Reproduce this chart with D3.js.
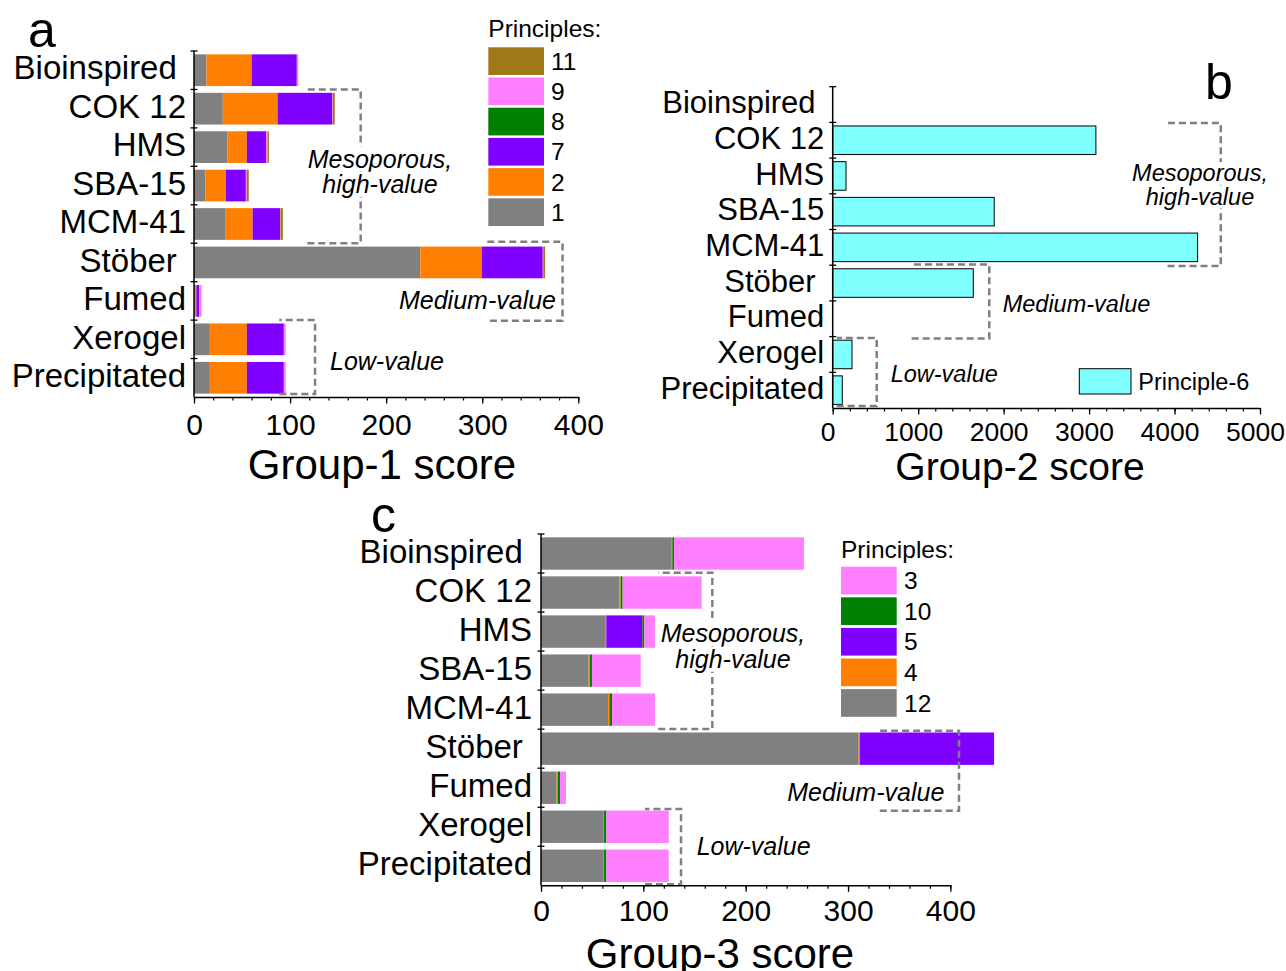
<!DOCTYPE html>
<html><head><meta charset="utf-8">
<script src="https://cdn.jsdelivr.net/npm/d3@7"></script>
<style>
body{margin:0;background:#fff}
svg{display:block}
text{font-family:"Liberation Sans",Arial,sans-serif;fill:#000}
</style>
</head><body>
<svg id="chart" width="1286" height="971"></svg>
<script>
// ---------- DATA ----------
const categories = ["Bioinspired","COK 12","HMS","SBA-15","MCM-41","Stöber","Fumed","Xerogel","Precipitated"];
const categoryLabels = ["Bioinspired\u00a0","COK 12","HMS","SBA-15","MCM-41","Stöber\u00a0","Fumed","Xerogel","Precipitated"];

// Group-1 (panel a), stacked in this order
const g1Keys = ["1","2","7","8","9","11"];
const g1P1  = [13, 30, 35, 12, 33, 235.5, 0.5, 16.5, 16.5];
const g1P2  = [47, 57, 20, 21, 28, 64, 2, 38.5, 38.5];
const g1P7  = [47, 57, 20, 21, 28.5, 63.5, 3, 38.5, 38.5];
const g1P8  = [0, 0, 0, 0, 0, 0, 0, 0, 0];
const g1P9  = [1.5, 0.5, 1.5, 1, 0.5, 0.5, 2.5, 2, 2];
const g1P11 = [0, 2, 1.5, 2, 2.5, 2, 0, 0, 0];
const g1Ticks = [0, 100, 200, 300, 400];
const g1Legend = ["11","9","8","7","2","1"];

// Group-2 (panel b)
const g2P6 = [0, 3080, 156, 1890, 4270, 1645, 0, 226, 112];
const g2Ticks = [0, 1000, 2000, 3000, 4000, 5000];

// Group-3 (panel c), stacked in this order
const g3Keys = ["12","4","5","10","3"];
const g3P12 = [127, 76.8, 62.5, 46.6, 65.5, 310.4, 15.3, 60.6, 60.6];
const g3P4  = [1.3, 1, 1.3, 1.3, 1.3, 1.3, 1.3, 1, 1];
const g3P5  = [0, 0, 35.2, 0, 0, 131, 0, 0, 0];
const g3P10 = [1.7, 2, 2, 1.9, 2.6, 0, 2, 2.3, 2.3];
const g3P3  = [127, 77.2, 10.4, 47.6, 42, 0, 5.8, 60.9, 60.9];
const g3Ticks = [0, 100, 200, 300, 400];
const g3Legend = ["3","10","5","4","12"];

// ---------- STYLE ----------
const color = {"1":"#808080","2":"#ff8000","7":"#8000ff","8":"#008000","9":"#ff80ff","11":"#a07818",
  "12":"#808080","4":"#ff8000","5":"#8000ff","10":"#008000","3":"#ff80ff","6":"#80ffff"};
const FONT = '"Liberation Sans",Arial,sans-serif';
const svg = d3.select("#chart");

function panel(cfg) {
  const g = svg.append("g");
  const x = d3.scaleLinear().domain(cfg.domain).range([cfg.left, cfg.right]);
  const yb = d3.scaleBand().domain(categories).range([cfg.top, cfg.bottom]);
  const y = d3.scaleBand().domain(categories).range([cfg.top, cfg.bottom])
    .paddingInner(cfg.pad).paddingOuter(cfg.pad / 2);
  const boundary = i => cfg.top + i * yb.step();

  // bars
  if (cfg.keys) {
    const rows = categories.map((c, i) => {
      const r = {cat: c};
      cfg.keys.forEach((k, j) => r[k] = cfg.series[j][i]);
      return r;
    });
    const st = d3.stack().keys(cfg.keys)(rows);
    g.append("g").selectAll("g").data(st).join("g").attr("fill", d => color[d.key])
      .selectAll("rect").data(d => d.filter(v => v[1] > v[0])).join("rect")
      .attr("x", d => x(d[0])).attr("width", d => x(d[1]) - x(d[0]))
      .attr("y", d => y(d.data.cat)).attr("height", y.bandwidth());
  } else {
    const rows = categories.map((c, i) => ({cat: c, v: cfg.values[i]})).filter(d => d.v > 0);
    g.append("g").selectAll("rect").data(rows).join("rect")
      .attr("x", x(0)).attr("width", d => x(d.v) - x(0))
      .attr("y", d => y(d.cat)).attr("height", y.bandwidth())
      .attr("fill", color["6"]).attr("stroke", "#000").attr("stroke-width", 1);
  }

  // dashed brackets
  cfg.brackets.forEach(b => {
    const yT = boundary(b.t[0]) + b.t[1], yB = boundary(b.b[0]) + b.b[1];
    g.append("path")
      .attr("d", `M${x(b.x0b)},${yB}L${x(b.x1)},${yB}L${x(b.x1)},${yT}L${x(b.x0)},${yT}`)
      .attr("fill", "none").attr("stroke", "#808080").attr("stroke-width", 2.5)
      .attr("stroke-dasharray", "7,4");
  });

  // annotation text with white background
  cfg.notes.forEach(n => {
    n.lines.forEach((line, i) => {
      const bg = g.append("rect").attr("fill", "#fff");
      const t = g.append("text").attr("x", n.x).attr("y", n.y + i * n.lh)
        .attr("text-anchor", n.anchor || "middle").style("font-size", n.size + "px")
        .style("font-style", "italic").text(line);
      const bb = t.node().getBBox();
      bg.attr("x", bb.x - 1).attr("y", bb.y + 2).attr("width", bb.width + 2).attr("height", bb.height - 3);
    });
  });

  // x axis: minor ticks
  const minor = d3.range(cfg.domain[0], cfg.domain[1] + 1e-9, cfg.minorStep);
  const gm = g.append("g").attr("transform", `translate(0,${cfg.bottom})`)
    .call(d3.axisBottom(x).tickValues(minor).tickSize(3.5).tickFormat(""));
  gm.select(".domain").remove();
  gm.selectAll("line").attr("stroke-width", 1.2);
  // x axis: major ticks + labels
  const gx = g.append("g").attr("transform", `translate(0,${cfg.bottom})`)
    .call(d3.axisBottom(x).tickValues(cfg.ticks).tickSize(6.5).tickSizeOuter(0).tickFormat(d3.format("d")));
  gx.attr("font-family", FONT).attr("font-size", cfg.tickSize);
  gx.select(".domain").attr("stroke-width", 1.5);
  gx.selectAll("line").attr("stroke-width", 1.3);
  gx.selectAll("text").attr("y", cfg.tickBaseline - cfg.bottom).attr("dy", null)
    .attr("dx", cfg.tickDx || 0).attr("fill", "#000");

  // y axis line and boundary ticks
  g.append("line").attr("x1", cfg.left).attr("x2", cfg.left).attr("y1", cfg.top).attr("y2", cfg.bottom)
    .attr("stroke", "#000").attr("stroke-width", 1.5);
  g.append("g").selectAll("line").data(d3.range(0, categories.length)).join("line")
    .attr("x1", cfg.left - 3.5).attr("x2", cfg.left + 3.5)
    .attr("y1", i => boundary(i)).attr("y2", i => boundary(i))
    .attr("stroke", "#000").attr("stroke-width", 1.3);
  // y labels
  const gy = g.append("g").attr("transform", `translate(${cfg.left},0)`)
    .call(d3.axisLeft(y).tickSize(0).tickPadding(cfg.labelPad).tickFormat((d, i) => categoryLabels[i]));
  gy.select(".domain").remove();
  gy.attr("font-family", FONT).attr("font-size", cfg.labelSize);
  gy.selectAll("text").attr("dy", "0.28em").attr("fill", "#000");

  // axis title
  g.append("text").attr("x", cfg.titleX).attr("y", cfg.titleY).attr("text-anchor", "middle")
    .style("font-size", cfg.titleSize + "px").text(cfg.title);
  // panel letter
  g.append("text").attr("x", cfg.letterX).attr("y", cfg.letterY)
    .style("font-size", "50px").text(cfg.letter);

  // legend
  if (cfg.legend) {
    const L = cfg.legend;
    g.append("text").attr("x", L.x).attr("y", L.titleY).style("font-size", "24.5px").text("Principles:");
    const items = g.append("g").selectAll("g").data(L.keys).join("g")
      .attr("transform", (d, i) => `translate(${L.x},${L.y0 + i * L.step})`);
    items.append("rect").attr("width", 55.7).attr("height", 27.7).attr("fill", d => color[d]);
    items.append("text").attr("x", L.labelX - L.x).attr("y", 13.85).attr("dy", "0.35em")
      .style("font-size", "24.5px").text(d => d);
  }
}

// Panel a
panel({
  keys: g1Keys, series: [g1P1, g1P2, g1P7, g1P8, g1P9, g1P11],
  domain: [0, 400], ticks: g1Ticks, minorStep: 20,
  left: 194, right: 578.3, top: 51, bottom: 397, pad: 0.175,
  labelSize: 33, labelPad: 8, tickSize: 30, tickBaseline: 434.5,
  title: "Group-1 score", titleSize: 42, titleX: 382, titleY: 479,
  letter: "a", letterX: 28, letterY: 47,
  brackets: [
    {x0: 118, x0b: 118, x1: 173.5, t: [1, 0], b: [5, 0]},
    {x0: 301, x0b: 308, x1: 383.6, t: [5, -1.5], b: [7, 0.7]},
    {x0: 88.8, x0b: 88.8, x1: 126, t: [7, 0], b: [9, -3]}
  ],
  notes: [
    {lines: ["Mesoporous,", "high-value"], x: 380, y: 167.5, lh: 25.3, size: 25},
    {lines: ["Medium-value"], x: 556, y: 308.5, lh: 0, size: 25, anchor: "end"},
    {lines: ["Low-value"], x: 330, y: 369.5, lh: 0, size: 25, anchor: "start"}
  ],
  legend: {x: 488.3, labelX: 551, titleY: 37, y0: 47.3, step: 30.2, keys: g1Legend}
});

// Panel b
panel({
  values: g2P6,
  domain: [0, 5000], ticks: g2Ticks, minorStep: 200,
  left: 832.7, right: 1260, top: 86.7, bottom: 408, pad: 0.2,
  labelSize: 31, labelPad: 8.5, tickSize: 26.5, tickBaseline: 441, tickDx: -5,
  title: "Group-2 score", titleSize: 39, titleX: 1020, titleY: 480,
  letter: "b", letterX: 1205, letterY: 99,
  brackets: [
    {x0: 3918, x0b: 3918, x1: 4541, t: [1, 0.6], b: [5, 0.7]},
    {x0: 924, x0b: 924, x1: 1832, t: [5, -0.7], b: [7, 2]},
    {x0: 47, x0b: 47, x1: 515, t: [7, 1.3], b: [9, -2]}
  ],
  notes: [
    {lines: ["Mesoporous,", "high-value"], x: 1200, y: 181, lh: 23.5, size: 23.5},
    {lines: ["Medium-value"], x: 1002.7, y: 311.7, lh: 0, size: 23.5, anchor: "start"},
    {lines: ["Low-value"], x: 890.7, y: 381.7, lh: 0, size: 23.5, anchor: "start"}
  ]
});
// panel b legend
svg.append("rect").attr("x", 1079.3).attr("y", 368.7).attr("width", 51.7).attr("height", 25.3)
  .attr("fill", color["6"]).attr("stroke", "#000").attr("stroke-width", 1);
svg.append("text").attr("x", 1138.3).attr("y", 381.3).attr("dy", "0.35em")
  .style("font-size", "23.5px").text("Principle-6");

// Panel c
panel({
  keys: g3Keys, series: [g3P12, g3P4, g3P5, g3P10, g3P3],
  domain: [0, 400], ticks: g3Ticks, minorStep: 20,
  left: 541, right: 950.4, top: 534, bottom: 885.3, pad: 0.17,
  labelSize: 33, labelPad: 9, tickSize: 30, tickBaseline: 921.5,
  title: "Group-3 score", titleSize: 42, titleX: 720, titleY: 968,
  letter: "c", letterX: 371, letterY: 531.7,
  brackets: [
    {x0: 114.6, x0b: 114.6, x1: 167.4, t: [1, -0.3], b: [5, -0.1]},
    {x0: 331, x0b: 331, x1: 408.4, t: [5, 1.6], b: [7, 3.4]},
    {x0: 101.6, x0b: 101.6, x1: 136.8, t: [7, 1.7], b: [9, -1]}
  ],
  notes: [
    {lines: ["Mesoporous,", "high-value"], x: 733, y: 642.3, lh: 25.4, size: 25},
    {lines: ["Medium-value"], x: 944.3, y: 801, lh: 0, size: 25, anchor: "end"},
    {lines: ["Low-value"], x: 696.7, y: 855, lh: 0, size: 25, anchor: "start"}
  ],
  legend: {x: 841, labelX: 904, titleY: 558.3, y0: 566.7, step: 30.6, keys: g3Legend}
});
</script>
</body></html>
